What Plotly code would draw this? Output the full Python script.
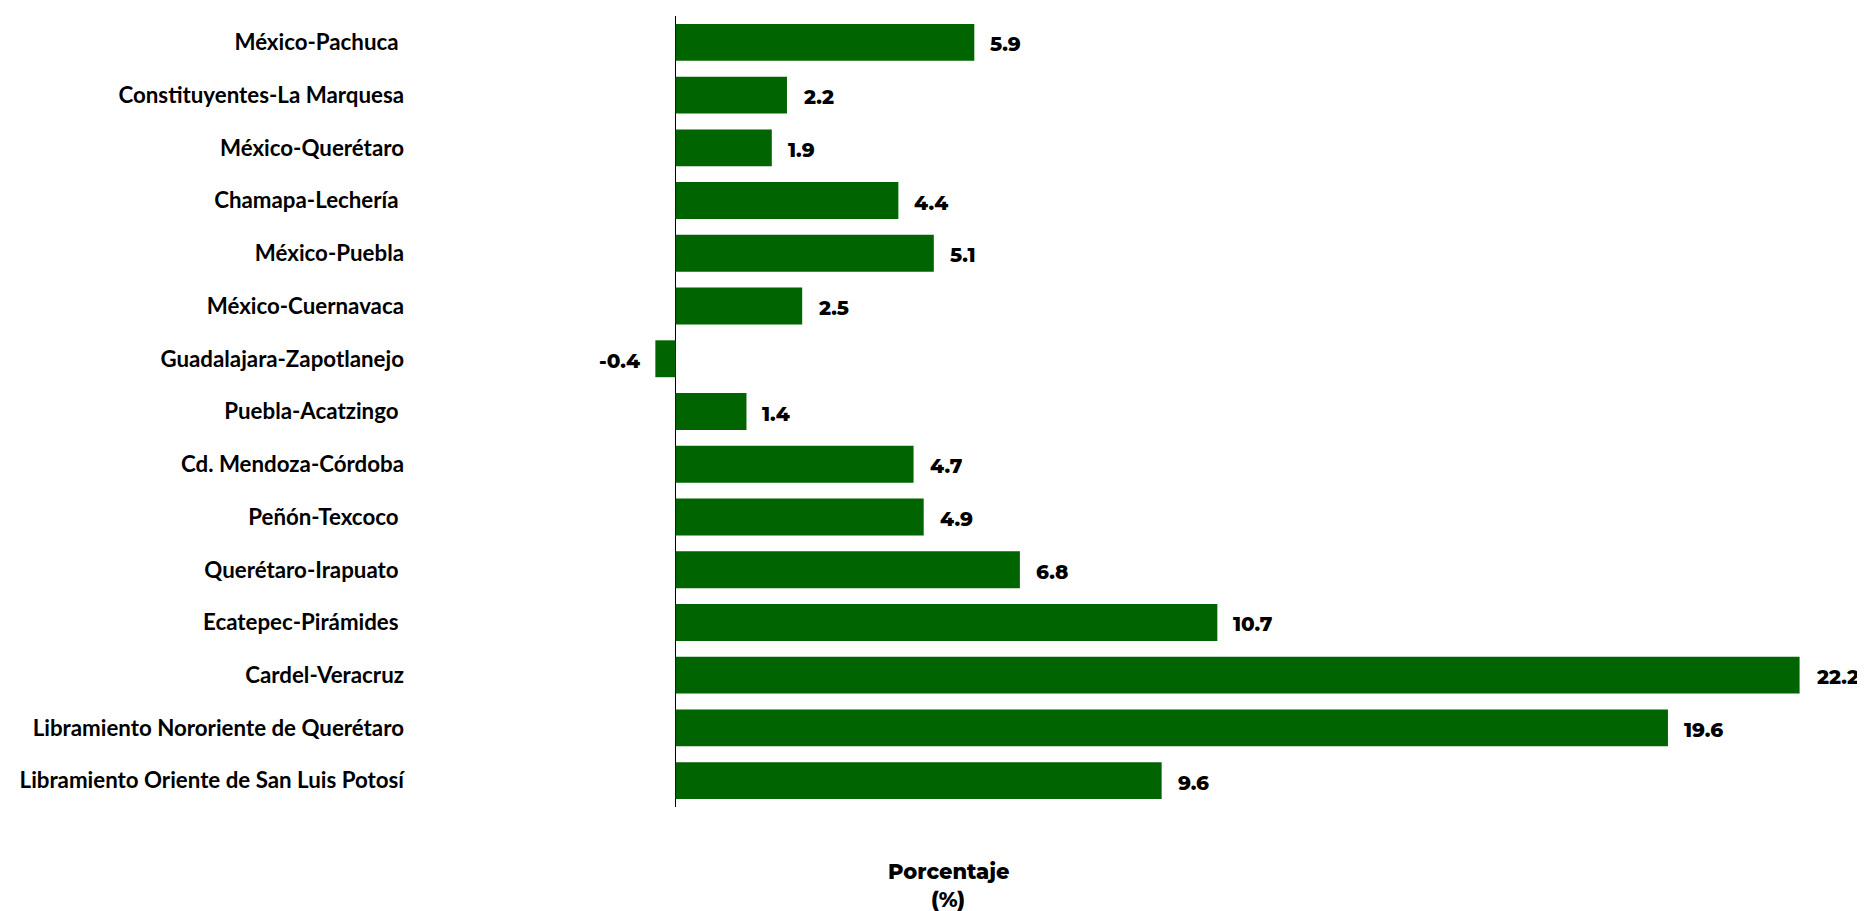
import plotly.graph_objects as go

categories = [
    "México-Pachuca ",
    "Constituyentes-La Marquesa",
    "México-Querétaro",
    "Chamapa-Lechería ",
    "México-Puebla",
    "México-Cuernavaca",
    "Guadalajara-Zapotlanejo",
    "Puebla-Acatzingo ",
    "Cd. Mendoza-Córdoba",
    "Peñón-Texcoco ",
    "Querétaro-Irapuato ",
    "Ecatepec-Pirámides ",
    "Cardel-Veracruz",
    "Libramiento Nororiente de Querétaro",
    "Libramiento Oriente de San Luis Potosí",
]
values = [5.9, 2.2, 1.9, 4.4, 5.1, 2.5, -0.4, 1.4, 4.7, 4.9, 6.8, 10.7, 22.2, 19.6, 9.6]
value_labels = [f"{v:.1f}" for v in values]

OFF = 8  # page body margin
W, H = 1865 - OFF, 911 - OFF
ML, MR = 397, 4
MT = 16 - OFF
MB = H - (807 - OFF)
zero_px = 675.6 - OFF
px_per_unit = 50.63
xmin = (ML - zero_px) / px_per_unit
xmax = (W - MR - zero_px) / px_per_unit

plot_w = W - ML - MR
plot_h = H - MT - MB


def px_x(px):
    return (px - OFF - ML) / plot_w


def px_y(py):
    return (H - MB - (py - OFF)) / plot_h


fig = go.Figure()
fig.add_trace(go.Bar(
    y=categories,
    x=values,
    orientation="h",
    marker=dict(color="#006400", line=dict(width=0)),
    hoverinfo="skip",
))

label_font = dict(family="Montserrat, 'Open Sans', sans-serif", size=20, color="#000000", weight=800)
for c, v, t in zip(categories, values, value_labels):
    fig.add_annotation(
        x=v, y=c, xref="x", yref="y", text=t, showarrow=False,
        xanchor="left" if v >= 0 else "right",
        xshift=14 if v >= 0 else -13,
        yshift=-2,
        font=label_font,
    )

title_font = dict(label_font, size=21)
fig.add_annotation(x=px_x(948), y=px_y(871), xref="paper", yref="paper",
                   text="Porcentaje", showarrow=False, font=title_font,
                   xanchor="center", yanchor="middle")
fig.add_annotation(x=px_x(948), y=px_y(899), xref="paper", yref="paper",
                   text="(%)", showarrow=False, font=title_font,
                   xanchor="center", yanchor="middle")

fig.update_layout(
    width=W, height=H,
    margin=dict(l=ML, r=MR, t=MT, b=MB, pad=0),
    paper_bgcolor="white", plot_bgcolor="white",
    bargap=0.3,
    showlegend=False,
    xaxis=dict(range=[xmin, xmax], showgrid=False, showticklabels=False,
               zeroline=True, zerolinecolor="#000000", zerolinewidth=1,
               showline=False, ticks=""),
    yaxis=dict(autorange="reversed", showgrid=False, zeroline=False,
               showline=False, ticks="", automargin=False,
               tickfont=dict(family="Lato, sans-serif", size=22.3, color="#000000", weight=700)),
)

fig.write_html("out.html")
